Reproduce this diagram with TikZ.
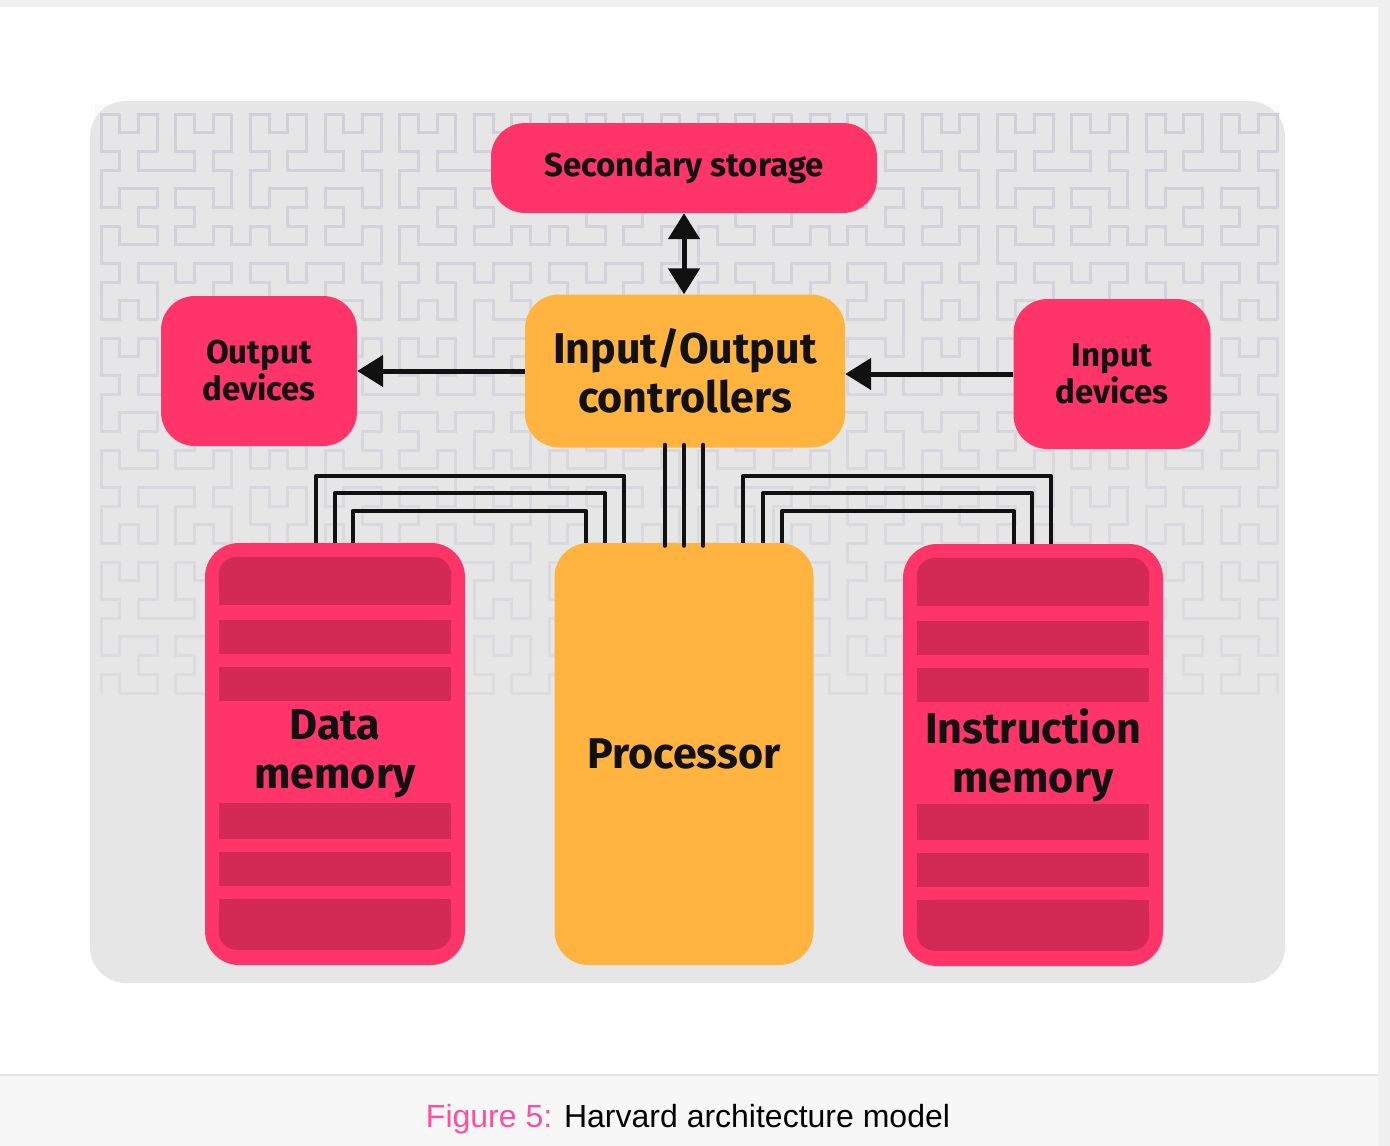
\documentclass[tikz,border=0pt]{standalone}
\usepackage{fontspec}
\setmainfont{Fira Sans}
\newfontfamily\piefont{Liberation Sans}
\usepackage{tikz}
\usetikzlibrary{arrows.meta,calc,positioning,lindenmayersystems,fadings}
\usepackage{xcolor}

\definecolor{rosa}{HTML}{FF3468}
\definecolor{rosaosc}{HTML}{D22A55}
\definecolor{naranja}{HTML}{FFB440}
\definecolor{fondo}{HTML}{E6E6E6}
\definecolor{trama}{HTML}{CBCCD6}
\definecolor{marco}{HTML}{F0F0F0}
\definecolor{linea}{HTML}{E4E4E4}
\definecolor{pie}{HTML}{F7F7F7}
\definecolor{rosapie}{HTML}{FF4DA0}
\definecolor{tinta}{HTML}{111111}

\pgfdeclarelindenmayersystem{Hilbert}{
  \rule{L -> +RF-LFL-FR+}
  \rule{R -> -LF+RFR+FL-}}

\tikzset{
  caja/.style={rounded corners=34pt,align=center,inner sep=0pt,text=tinta},
  cajarosa/.style={caja,fill=rosa},
  cajanar/.style={caja,fill=naranja},
  textochico/.style={font=\fontsize{33}{37}\selectfont\bfseries},
  textogrande/.style={font=\fontsize{43}{49}\selectfont\bfseries},
  bus/.style={tinta,line width=4pt,line join=round},
  franja/.style={fill=rosaosc}
}

\begin{document}
\begin{tikzpicture}[x=1pt,y=-1pt,>={Triangle[width=31pt,length=26pt]}]
  \useasboundingbox (0,0) rectangle (1390,1146);

  % Página
  \fill[white] (0,0) rectangle (1390,1146);
  \fill[marco] (0,0) rectangle (1390,7);
  \fill[marco] (1378,0) rectangle (1390,1146);
  \fill[pie] (0,1075) rectangle (1378,1146);
  \draw[linea,line width=2pt] (0,1075) -- (1378,1075);

  % Fondo gris con trama de Hilbert
  \fill[fondo,rounded corners=36pt] (90,101) rectangle (1285,983);
  \foreach \dx in {0,597.4}{
    \begin{scope}[shift={(101+\dx,693)}]
      \draw[trama,line width=3pt]
        [l-system={Hilbert,axiom=L,order=5,angle=90,step=18.67pt}] lindenmayer system;
    \end{scope}
  }
  \begin{scope}
    \clip (95,104) rectangle (1283,705);
    \fill[fondo,path fading=north,fill opacity=0.7] (95,-80) rectangle (1283,705);
  \end{scope}

  % Cajas
  \node[cajarosa,textochico,minimum width=386pt,minimum height=90pt] (S) at (684,168) {Secondary storage};
  \node[cajanar,textogrande,minimum width=320pt,minimum height=153pt] (IO) at (685,371) {Input/Output\\controllers};
  \node[cajarosa,textochico,minimum width=196pt,minimum height=150pt] (OD) at (259,371) {Output\\devices};
  \node[cajarosa,textochico,minimum width=197pt,minimum height=150pt] (ID) at (1112,374) {Input\\devices};
  \node[cajarosa,textogrande,minimum width=260pt,minimum height=422pt] (DM) at (335,754) {Data\\memory};
  \node[cajanar,textogrande,minimum width=259pt,minimum height=422pt] (P) at (684,754) {Processor};
  \node[cajarosa,textogrande,minimum width=260pt,minimum height=422pt] (IM) at (1033,755) {Instruction\\memory};

  % Franjas de las memorias
  \foreach \mem in {DM,IM}{
    \fill[franja,rounded corners=18pt] ($(\mem.north west)+(14,14)$) rectangle ($(\mem.north east)+(-14,62)$);
    \fill[franja] ($(\mem.north west)+(14,35)$) rectangle ($(\mem.north east)+(-14,62)$);
    \foreach \ya/\yb in {77/111,124/158,260/296,309/343}
      \fill[franja] ($(\mem.north west)+(14,\ya)$) rectangle ($(\mem.north east)+(-14,\yb)$);
    \fill[franja,rounded corners=18pt] ($(\mem.north west)+(14,356)$) rectangle ($(\mem.north east)+(-14,407)$);
    \fill[franja] ($(\mem.north west)+(14,356)$) rectangle ($(\mem.north east)+(-14,385)$);
  }

  % Buses
  \foreach \a/\b/\h in {111/70/67,130/51/50,148/32/32}
    \draw[bus] ($(DM.north west)+(\a,0)$) -- ++(0,-\h) -| ($(P.north west)+(\b,0)$);
  \foreach \a/\b/\h in {189/148/67,209/129/50,228/111/32}
    \draw[bus] ($(P.north west)+(\a,0)$) -- ++(0,-\h) -| ($(IM.north west)+(\b,0)$);
  \foreach \d [count=\i] in {-19,0,19}{
    \coordinate (b\i) at ($(P.north)+(\d,3)$);
    \draw[bus,line cap=round] (b\i |- IO.south) ++(0,-3) -- (b\i);
  }

  % Flechas
  \draw[<->,tinta,line width=5pt] (S.south) -- (S.south |- IO.north);
  \draw[->,tinta,line width=5pt] (IO.west) -- (IO.west -| OD.east);
  \draw[->,tinta,line width=5pt] (ID.west) -- (ID.west -| IO.east);

  % Pie de figura
  \node[font=\piefont\fontsize{32}{38}\selectfont] (cap) at (688,1119) {\textcolor{rosapie}{Figure 5:} Harvard architecture model};
\end{tikzpicture}
\end{document}
